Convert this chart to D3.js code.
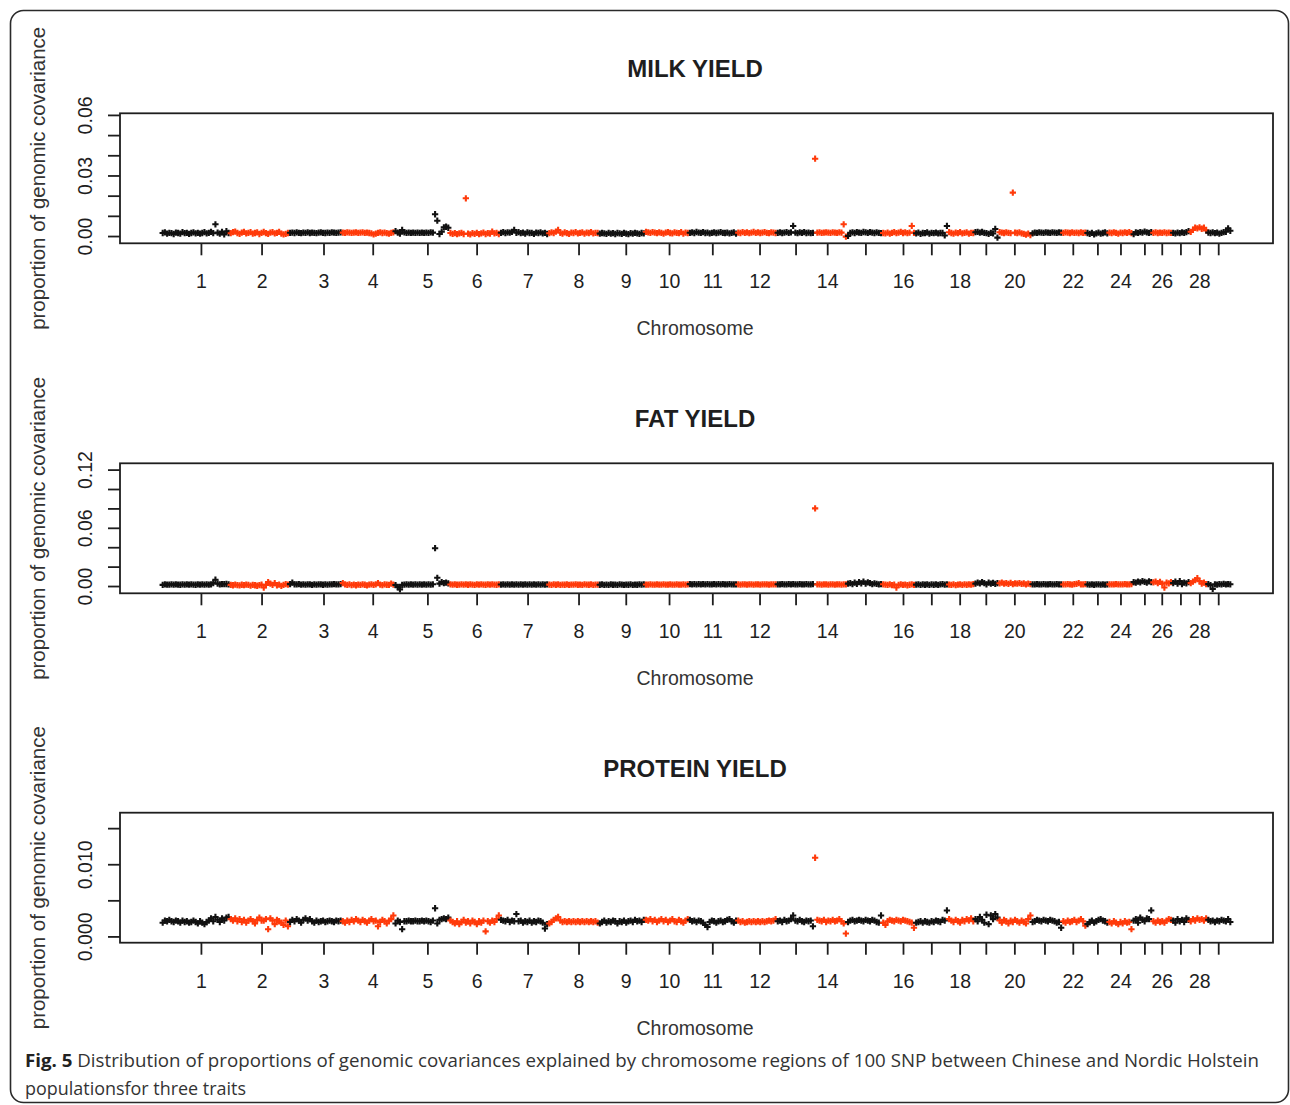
<!DOCTYPE html>
<html>
<head>
<meta charset="utf-8">
<script src="https://cdn.jsdelivr.net/npm/d3@7"></script>
<style>
  body { margin: 0; background: #fff; }
  svg { display: block; }
</style>
</head>
<body>
<svg id="fig" width="1290" height="1105"></svg>
<script>
// Chromosome labels along the x axis (odd ones past 12 are crowded out)
const chromosomes = d3.range(1, 30);
const labelledChromosomes = [1,2,3,4,5,6,7,8,9,10,11,12,14,16,18,20,22,24,26,28];
// Chromosome centre, in units of the running region index
const chromosomeCentres = [17.4,45.0,73.2,95.6,120.5,142.9,166.1,189.3,210.8,230.5,250.2,271.7,288.1,302.5,319.9,337.0,349.9,362.8,374.7,387.7,401.4,414.3,425.5,436.0,446.9,454.8,463.3,471.9,480.5];

// Proportion of genomic covariance per 100-SNP region, grouped by chromosome
const milkYield = [
  [0.0015,0.0018,0.0012,0.0016,0.0014,0.0010,0.0017,0.0015,0.0012,0.0019,0.0014,0.0016,0.0011,0.0015,0.0018,0.0013,0.0016,0.0012,0.0015,0.0019,0.0013,0.0016,0.0021,0.0014,0.0058,0.0017,0.0012,0.0020,0.0008,0.0024,0.0015],
  [0.0014,0.0019,0.0022,0.0015,0.0011,0.0017,0.0021,0.0013,0.0016,0.0019,0.0012,0.0015,0.0018,0.0010,0.0016,0.0020,0.0014,0.0011,0.0017,0.0019,0.0013,0.0016,0.0021,0.0012,0.0008,0.0011,0.0015],
  [0.0016,0.0017,0.0015,0.0018,0.0016,0.0014,0.0017,0.0016,0.0018,0.0015,0.0017,0.0016,0.0014,0.0017,0.0018,0.0016,0.0015,0.0017,0.0016,0.0018,0.0017,0.0016,0.0017,0.0018],
  [0.0017,0.0016,0.0018,0.0017,0.0016,0.0017,0.0018,0.0016,0.0017,0.0018,0.0016,0.0017,0.0015,0.0013,0.0008,0.0012,0.0016,0.0018,0.0015,0.0017,0.0014,0.0012,0.0016,0.0018],
  [0.0024,0.0017,0.0012,0.0030,0.0018,0.0016,0.0017,0.0016,0.0017,0.0016,0.0017,0.0016,0.0017,0.0016,0.0017,0.0016,0.0018,0.0017,0.0108,0.0076,0.0010,0.0021,0.0043,0.0046,0.0041],
  [0.0015,0.0011,0.0014,0.0009,0.0013,0.0016,0.0010,0.0187,0.0012,0.0008,0.0014,0.0011,0.0016,0.0009,0.0013,0.0017,0.0010,0.0014,0.0012,0.0022,0.0013,0.0016,0.0010],
  [0.0016,0.0019,0.0015,0.0018,0.0017,0.0021,0.0030,0.0016,0.0019,0.0014,0.0017,0.0012,0.0018,0.0015,0.0016,0.0011,0.0017,0.0015,0.0018,0.0013,0.0016,0.0010],
  [0.0014,0.0018,0.0015,0.0022,0.0030,0.0016,0.0012,0.0018,0.0014,0.0011,0.0017,0.0015,0.0019,0.0013,0.0016,0.0018,0.0012,0.0017,0.0015,0.0019,0.0013,0.0016,0.0015],
  [0.0012,0.0015,0.0013,0.0011,0.0016,0.0012,0.0014,0.0010,0.0015,0.0013,0.0011,0.0016,0.0012,0.0009,0.0014,0.0012,0.0016,0.0013,0.0011,0.0015,0.0013],
  [0.0021,0.0018,0.0016,0.0019,0.0017,0.0014,0.0018,0.0016,0.0012,0.0017,0.0019,0.0015,0.0013,0.0018,0.0016,0.0014,0.0019,0.0012,0.0017,0.0015],
  [0.0016,0.0018,0.0015,0.0020,0.0017,0.0016,0.0019,0.0015,0.0017,0.0013,0.0016,0.0018,0.0015,0.0017,0.0019,0.0016,0.0015,0.0017,0.0013,0.0016,0.0018,0.0012],
  [0.0017,0.0015,0.0019,0.0016,0.0018,0.0014,0.0017,0.0020,0.0016,0.0018,0.0015,0.0017,0.0019,0.0016,0.0014,0.0018,0.0017,0.0015],
  [0.0016,0.0018,0.0015,0.0017,0.0019,0.0016,0.0018,0.0050,0.0017,0.0014,0.0018,0.0016,0.0019,0.0015,0.0017,0.0014,0.0016],
  [0.0383,0.0017,0.0018,0.0016,0.0017,0.0018,0.0017,0.0016,0.0018,0.0017,0.0016,0.0018,0.0017,0.0058,-0.0003],
  [0.0001,0.0016,0.0018,0.0015,0.0019,0.0017,0.0016,0.0020,0.0018,0.0016,0.0019,0.0017,0.0015,0.0018,0.0016,0.0014],
  [0.0015,0.0013,0.0017,0.0012,0.0016,0.0019,0.0014,0.0017,0.0021,0.0015,0.0018,0.0014,0.0017,0.0050,0.0016],
  [0.0013,0.0017,0.0011,0.0015,0.0014,0.0018,0.0012,0.0016,0.0014,0.0017,0.0013,0.0015,0.0016,0.0003,0.0050],
  [0.0019,0.0015,0.0012,0.0017,0.0014,0.0019,0.0013,0.0016,0.0018,0.0012,0.0016,0.0015],
  [0.0019,0.0021,0.0017,0.0020,0.0016,0.0014,0.0011,0.0016,0.0013,0.0035,-0.0008],
  [0.0019,0.0017,0.0015,0.0018,0.0016,0.0014,0.0215,0.0017,0.0015,0.0018,0.0013,0.0011,0.0007,0.0012,0.0005],
  [0.0013,0.0017,0.0016,0.0018,0.0017,0.0016,0.0018,0.0017,0.0016,0.0018,0.0017,0.0016,0.0018,0.0017],
  [0.0016,0.0018,0.0017,0.0015,0.0018,0.0016,0.0017,0.0015,0.0018,0.0016,0.0017],
  [0.0015,0.0011,0.0016,0.0008,0.0013,0.0017,0.0012,0.0015,0.0018,0.0013],
  [0.0017,0.0015,0.0018,0.0016,0.0012,0.0017,0.0015,0.0018,0.0016,0.0019,0.0014],
  [0.0009,0.0018,0.0016,0.0019,0.0017,0.0022,0.0018,0.0016,0.0019],
  [0.0016,0.0018,0.0015,0.0017,0.0016,0.0018,0.0015,0.0017,0.0016],
  [0.0016,0.0013,0.0017,0.0014,0.0018,0.0016,0.0019,0.0024],
  [0.0021,0.0030,0.0042,0.0038,0.0043,0.0036,0.0041,0.0028],
  [0.0017,0.0015,0.0018,0.0014,0.0017,0.0012,0.0016,0.0019,0.0021,0.0038,0.0026]
];

const fatYield = [
  [0.0012,0.0016,0.0014,0.0015,0.0017,0.0014,0.0016,0.0015,0.0013,0.0016,0.0015,0.0017,0.0014,0.0016,0.0015,0.0013,0.0016,0.0015,0.0017,0.0014,0.0016,0.0015,0.0018,0.0030,0.0065,0.0025,0.0018,0.0020,0.0019,0.0021,0.0018],
  [0.0012,0.0008,0.0014,0.0010,0.0006,0.0013,0.0009,0.0015,0.0011,0.0005,0.0012,0.0008,0.0003,0.0010,0.0014,-0.0015,0.0010,0.0040,0.0025,0.0012,0.0030,0.0008,0.0014,0.0002,0.0011,0.0020,0.0015],
  [0.0020,0.0035,0.0018,0.0016,0.0019,0.0015,0.0017,0.0014,0.0018,0.0016,0.0012,0.0017,0.0015,0.0018,0.0016,0.0013,0.0017,0.0015,0.0018,0.0016,0.0019,0.0017,0.0018,0.0020],
  [0.0030,0.0018,0.0012,0.0016,0.0010,0.0014,0.0008,0.0015,0.0011,0.0017,0.0013,0.0006,0.0014,0.0018,0.0012,0.0016,0.0030,0.0014,0.0009,0.0016,0.0013,0.0011,0.0025,0.0015],
  [0.0010,-0.0010,-0.0035,0.0012,0.0015,0.0016,0.0015,0.0016,0.0015,0.0016,0.0015,0.0016,0.0015,0.0016,0.0015,0.0016,0.0015,0.0018,0.0390,0.0085,0.0025,0.0040,0.0030,0.0035,0.0028],
  [0.0016,0.0014,0.0017,0.0013,0.0015,0.0018,0.0014,0.0016,0.0013,0.0017,0.0015,0.0012,0.0016,0.0014,0.0017,0.0015,0.0013,0.0016,0.0014,0.0018,0.0015,0.0013,0.0016],
  [0.0015,0.0016,0.0014,0.0017,0.0015,0.0016,0.0014,0.0017,0.0015,0.0016,0.0014,0.0017,0.0015,0.0016,0.0014,0.0017,0.0015,0.0016,0.0014,0.0017,0.0015,0.0016],
  [0.0014,0.0012,0.0016,0.0013,0.0017,0.0012,0.0015,0.0013,0.0016,0.0012,0.0015,0.0014,0.0017,0.0013,0.0015,0.0012,0.0016,0.0014,0.0013,0.0016,0.0012,0.0015,0.0014],
  [0.0013,0.0016,0.0012,0.0015,0.0011,0.0016,0.0013,0.0015,0.0012,0.0016,0.0014,0.0011,0.0015,0.0013,0.0016,0.0012,0.0015,0.0013,0.0017,0.0014,0.0016],
  [0.0015,0.0014,0.0016,0.0015,0.0014,0.0016,0.0015,0.0014,0.0016,0.0015,0.0014,0.0016,0.0015,0.0014,0.0016,0.0015,0.0014,0.0016,0.0015,0.0017],
  [0.0020,0.0018,0.0019,0.0017,0.0019,0.0018,0.0020,0.0017,0.0019,0.0018,0.0017,0.0019,0.0018,0.0020,0.0017,0.0019,0.0018,0.0017,0.0019,0.0018,0.0017,0.0018],
  [0.0016,0.0015,0.0017,0.0016,0.0015,0.0017,0.0016,0.0015,0.0017,0.0016,0.0015,0.0018,0.0016,0.0017,0.0015,0.0016,0.0018,0.0016],
  [0.0018,0.0017,0.0019,0.0017,0.0018,0.0020,0.0017,0.0019,0.0018,0.0017,0.0019,0.0018,0.0017,0.0019,0.0018,0.0017,0.0019],
  [0.0800,0.0016,0.0017,0.0015,0.0016,0.0017,0.0015,0.0016,0.0017,0.0015,0.0016,0.0017,0.0015,0.0016,0.0018],
  [0.0025,0.0030,0.0020,0.0035,0.0022,0.0040,0.0028,0.0045,0.0025,0.0038,0.0030,0.0020,0.0028,0.0022,0.0018,0.0020],
  [0.0018,0.0015,0.0012,0.0016,0.0010,0.0015,-0.0015,0.0012,0.0016,0.0011,0.0014,0.0008,0.0013,0.0016,0.0012],
  [0.0014,0.0017,0.0012,0.0016,0.0013,0.0018,0.0011,0.0016,0.0013,0.0017,0.0012,0.0016,0.0020,0.0015,0.0018],
  [0.0015,0.0012,0.0016,0.0010,0.0014,0.0017,0.0011,0.0016,0.0013,0.0018,0.0014,0.0020],
  [0.0025,0.0035,0.0028,0.0040,0.0030,0.0018,0.0036,0.0025,0.0032,0.0022,0.0030],
  [0.0028,0.0035,0.0025,0.0030,0.0022,0.0033,0.0020,0.0028,0.0024,0.0030,0.0022,0.0026,0.0018,0.0024,0.0020],
  [0.0018,0.0017,0.0019,0.0018,0.0017,0.0019,0.0018,0.0017,0.0019,0.0018,0.0017,0.0019,0.0018,0.0017],
  [0.0016,0.0018,0.0020,0.0017,0.0015,0.0019,0.0022,0.0030,0.0018,0.0016,0.0019],
  [0.0016,0.0014,0.0017,0.0013,0.0016,0.0018,0.0015,0.0017,0.0014,0.0016],
  [0.0017,0.0018,0.0016,0.0019,0.0017,0.0018,0.0016,0.0019,0.0017,0.0018,0.0020],
  [0.0040,0.0035,0.0045,0.0038,0.0050,0.0042,0.0036,0.0048,0.0040],
  [0.0038,0.0045,0.0030,0.0042,0.0025,-0.0015,0.0035,0.0028,0.0040],
  [0.0030,0.0045,0.0025,0.0050,0.0020,0.0035,0.0028,0.0040],
  [0.0030,0.0045,0.0060,0.0080,0.0050,0.0025,0.0035,0.0020],
  [0.0020,0.0010,-0.0030,0.0018,0.0015,0.0020,0.0017,0.0022,0.0016,0.0020,0.0018]
];

const proteinYield = [
  [0.0019,0.0022,0.0021,0.0023,0.0021,0.0020,0.0022,0.0021,0.0019,0.0022,0.0020,0.0021,0.0019,0.0020,0.0022,0.0020,0.0018,0.0021,0.0019,0.0017,0.0020,0.0022,0.0025,0.0021,0.0027,0.0023,0.0020,0.0025,0.0022,0.0026,0.0027],
  [0.0024,0.0022,0.0025,0.0021,0.0024,0.0020,0.0023,0.0019,0.0022,0.0024,0.0021,0.0018,0.0023,0.0026,0.0022,0.0022,0.0024,0.0010,0.0025,0.0022,0.0017,0.0023,0.0021,0.0019,0.0016,0.0022,0.0014],
  [0.0020,0.0023,0.0021,0.0024,0.0022,0.0019,0.0023,0.0025,0.0022,0.0024,0.0021,0.0019,0.0022,0.0020,0.0021,0.0022,0.0020,0.0021,0.0022,0.0021,0.0020,0.0022,0.0021,0.0022],
  [0.0021,0.0019,0.0022,0.0020,0.0023,0.0021,0.0024,0.0022,0.0020,0.0023,0.0021,0.0019,0.0022,0.0024,0.0021,0.0022,0.0014,0.0020,0.0023,0.0021,0.0018,0.0022,0.0024,0.0029],
  [0.0018,0.0022,0.0020,0.0010,0.0021,0.0021,0.0022,0.0021,0.0021,0.0022,0.0021,0.0021,0.0022,0.0021,0.0022,0.0021,0.0020,0.0022,0.0039,0.0018,0.0023,0.0024,0.0025,0.0024,0.0026],
  [0.0022,0.0020,0.0018,0.0021,0.0017,0.0020,0.0023,0.0019,0.0021,0.0018,0.0022,0.0020,0.0017,0.0021,0.0019,0.0022,0.0007,0.0021,0.0019,0.0022,0.0020,0.0024,0.0029],
  [0.0023,0.0022,0.0021,0.0023,0.0020,0.0022,0.0021,0.0031,0.0021,0.0022,0.0019,0.0021,0.0020,0.0022,0.0019,0.0021,0.0020,0.0022,0.0021,0.0019,0.0011,0.0017],
  [0.0018,0.0020,0.0023,0.0025,0.0027,0.0022,0.0020,0.0021,0.0020,0.0021,0.0020,0.0021,0.0020,0.0021,0.0020,0.0021,0.0020,0.0021,0.0020,0.0021,0.0020,0.0021,0.0019],
  [0.0018,0.0020,0.0022,0.0019,0.0021,0.0020,0.0022,0.0021,0.0018,0.0021,0.0020,0.0022,0.0019,0.0021,0.0022,0.0020,0.0023,0.0021,0.0022,0.0020,0.0023],
  [0.0023,0.0022,0.0024,0.0021,0.0023,0.0020,0.0022,0.0024,0.0021,0.0023,0.0020,0.0022,0.0024,0.0021,0.0020,0.0023,0.0021,0.0019,0.0022,0.0024],
  [0.0023,0.0021,0.0022,0.0020,0.0022,0.0021,0.0019,0.0016,0.0013,0.0020,0.0022,0.0021,0.0019,0.0021,0.0022,0.0020,0.0021,0.0023,0.0024,0.0021,0.0019,0.0022],
  [0.0022,0.0020,0.0021,0.0019,0.0020,0.0021,0.0020,0.0021,0.0020,0.0021,0.0020,0.0021,0.0020,0.0021,0.0022,0.0021,0.0022,0.0024],
  [0.0021,0.0022,0.0020,0.0023,0.0021,0.0022,0.0024,0.0029,0.0022,0.0021,0.0023,0.0021,0.0020,0.0022,0.0021,0.0022,0.0014],
  [0.0109,0.0023,0.0022,0.0021,0.0023,0.0020,0.0022,0.0021,0.0023,0.0021,0.0022,0.0024,0.0021,0.0018,0.0004],
  [0.0020,0.0022,0.0023,0.0021,0.0022,0.0023,0.0022,0.0021,0.0023,0.0022,0.0021,0.0023,0.0022,0.0020,0.0019,0.0029],
  [0.0019,0.0016,0.0021,0.0023,0.0022,0.0021,0.0023,0.0022,0.0021,0.0023,0.0022,0.0021,0.0020,0.0019,0.0012],
  [0.0019,0.0020,0.0021,0.0019,0.0021,0.0020,0.0019,0.0021,0.0020,0.0022,0.0021,0.0020,0.0023,0.0022,0.0036],
  [0.0024,0.0022,0.0020,0.0023,0.0021,0.0019,0.0023,0.0021,0.0024,0.0022,0.0025,0.0021],
  [0.0024,0.0021,0.0027,0.0023,0.0019,0.0030,0.0017,0.0029,0.0024,0.0031,0.0026],
  [0.0022,0.0019,0.0023,0.0021,0.0018,0.0022,0.0020,0.0023,0.0021,0.0019,0.0022,0.0020,0.0018,0.0024,0.0029],
  [0.0020,0.0021,0.0023,0.0022,0.0021,0.0023,0.0022,0.0021,0.0023,0.0022,0.0021,0.0019,0.0020,0.0012],
  [0.0021,0.0019,0.0022,0.0020,0.0021,0.0023,0.0020,0.0022,0.0024,0.0021,0.0015],
  [0.0017,0.0020,0.0022,0.0019,0.0021,0.0023,0.0024,0.0022,0.0021,0.0019],
  [0.0020,0.0018,0.0021,0.0019,0.0017,0.0020,0.0018,0.0021,0.0019,0.0020,0.0010],
  [0.0022,0.0024,0.0019,0.0026,0.0023,0.0021,0.0025,0.0024,0.0036],
  [0.0021,0.0019,0.0022,0.0020,0.0021,0.0019,0.0022,0.0024,0.0023],
  [0.0022,0.0019,0.0024,0.0021,0.0023,0.0020,0.0025,0.0023],
  [0.0021,0.0024,0.0022,0.0025,0.0023,0.0024,0.0022,0.0025],
  [0.0023,0.0021,0.0022,0.0020,0.0022,0.0021,0.0023,0.0022,0.0021,0.0024,0.0020]
];

// Axis ticks and the subset that carries a label
const milkTicks = [0, 0.01, 0.02, 0.03, 0.04, 0.05, 0.06];
const milkTickLabels = ["0.00", "0.03", "0.06"];
const fatTicks = [0, 0.02, 0.04, 0.06, 0.08, 0.10, 0.12];
const fatTickLabels = ["0.00", "0.06", "0.12"];
const proteinTicks = [0, 0.005, 0.010, 0.015];
const proteinTickLabels = ["0.000", "0.010"];

const panels = [
  { title: "MILK YIELD",    values: milkYield,    domain: [-0.0036, 0.0608],  ticks: milkTicks,    labels: milkTickLabels,    fmt: d3.format(".2f") },
  { title: "FAT YIELD",     values: fatYield,     domain: [-0.0075, 0.1265],  ticks: fatTicks,     labels: fatTickLabels,     fmt: d3.format(".2f") },
  { title: "PROTEIN YIELD", values: proteinYield, domain: [-0.00087, 0.01714], ticks: proteinTicks, labels: proteinTickLabels, fmt: d3.format(".3f") }
];

const INK = "#1e1e1e";
const RED = "#ff3a0a";
const AXIS_FONT = "'Liberation Sans', Arial, sans-serif";

const svg = d3.select("#fig");

// rounded figure frame
svg.append("rect")
  .attr("x", 10.5).attr("y", 10.5)
  .attr("width", 1278).attr("height", 1092)
  .attr("rx", 13).attr("ry", 13)
  .attr("fill", "none").attr("stroke", "#2a2a2a").attr("stroke-width", 1.6);

const box = { left: 120, right: 1273, height: 130 };
const panelTops = [113.3, 463.3, 812.7];

panels.forEach((p, k) => {
  // flatten the regions into one running index along the genome
  const pts = [];
  p.values.forEach((arr, c) => {
    arr.forEach(v => pts.push({ i: pts.length, chr: c + 1, v }));
  });
  const n = pts.length - 1;

  const x = d3.scaleLinear().domain([-0.04 * n, 1.04 * n]).range([box.left, box.right]);
  const top = panelTops[k];
  const y = d3.scaleLinear().domain(p.domain).range([top + box.height, top]);

  const g = svg.append("g");

  // title
  g.append("text")
    .attr("x", 695).attr("y", top - 36)
    .attr("text-anchor", "middle")
    .attr("font-family", AXIS_FONT).attr("font-weight", "bold")
    .attr("font-size", 24).attr("fill", INK)
    .text(p.title);

  // y axis
  const yAxis = d3.axisLeft(y)
    .tickValues(p.ticks)
    .tickSize(12).tickSizeOuter(0)
    .tickFormat(d => p.labels.includes(p.fmt(d)) ? p.fmt(d) : "");
  const ya = g.append("g").attr("transform", `translate(${box.left},0)`).call(yAxis);
  ya.select(".domain").remove();
  ya.selectAll(".tick line").attr("stroke", INK).attr("stroke-width", 1.8);
  ya.selectAll(".tick text")
    .attr("x", null).attr("dy", null)
    .attr("transform", "translate(-28,0) rotate(-90)")
    .attr("text-anchor", "middle")
    .attr("font-family", AXIS_FONT).attr("font-size", 19.5).attr("fill", INK);

  // x axis, one tick per chromosome
  const xAxis = d3.axisBottom(x)
    .tickValues(chromosomeCentres)
    .tickSize(12).tickSizeOuter(0).tickPadding(19)
    .tickFormat((d, i) => labelledChromosomes.includes(chromosomes[i]) ? chromosomes[i] : "");
  const xa = g.append("g").attr("transform", `translate(0,${top + box.height})`).call(xAxis);
  xa.select(".domain").remove();
  xa.selectAll(".tick line").attr("stroke", INK).attr("stroke-width", 1.8);
  xa.selectAll(".tick text")
    .attr("font-family", AXIS_FONT).attr("font-size", 19.5).attr("fill", INK);

  // axis titles
  g.append("text")
    .attr("x", 695).attr("y", top + box.height + 92)
    .attr("text-anchor", "middle")
    .attr("font-family", AXIS_FONT).attr("font-size", 19.5).attr("fill", "#333")
    .text("Chromosome");
  g.append("text")
    .attr("transform", `translate(45,${top + box.height / 2}) rotate(-90)`)
    .attr("text-anchor", "middle")
    .attr("font-family", AXIS_FONT).attr("font-size", 20.5).attr("fill", "#333")
    .text("proportion of genomic covariance");

  // points, alternating colour by chromosome
  const cross = d3.symbol().type(d3.symbolCross).size(22);
  g.append("g").selectAll("path")
    .data(pts)
    .join("path")
    .attr("transform", d => `translate(${x(d.i)},${y(d.v)})`)
    .attr("d", cross)
    .attr("fill", d => d.chr % 2 ? "#111" : RED);

  // plot frame
  g.append("rect")
    .attr("x", box.left).attr("y", top)
    .attr("width", box.right - box.left).attr("height", box.height)
    .attr("fill", "none").attr("stroke", INK).attr("stroke-width", 1.8);
});

// caption
const cap = svg.append("g")
  .attr("font-family", "'Open Sans', 'Noto Sans', sans-serif")
  .attr("font-size", 18.5).attr("fill", "#333");
const line1 = cap.append("text").attr("x", 25).attr("y", 1067)
  .attr("textLength", 1234).attr("lengthAdjust", "spacingAndGlyphs");
line1.append("tspan").attr("font-weight", "bold").attr("fill", "#222").text("Fig. 5");
line1.append("tspan").text(" Distribution of proportions of genomic covariances explained by chromosome regions of 100 SNP between Chinese and Nordic Holstein");
cap.append("text").attr("x", 25).attr("y", 1095)
  .attr("textLength", 221).attr("lengthAdjust", "spacingAndGlyphs")
  .text("populationsfor three traits");
</script>
</body>
</html>
